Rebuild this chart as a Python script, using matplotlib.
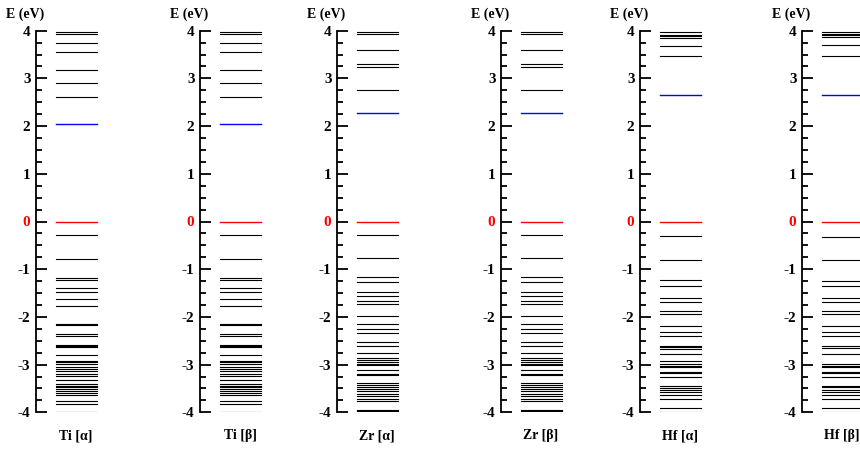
import matplotlib
matplotlib.use('agg')
import matplotlib.pyplot as plt
from matplotlib.ticker import MultipleLocator

# energy levels (eV)
ti_a = [3.97, 3.94, 3.74, 3.56, 3.18, 2.91, 2.60,
        -0.29, -0.78, -1.19, -1.22, -1.39, -1.47, -1.62, -1.77,
        -2.15, -2.17, -2.35, -2.41, -2.59, -2.62, -2.64, -2.80,
        -2.92, -2.94, -2.99, -3.04, -3.09, -3.14, -3.19, -3.24, -3.33,
        -3.40, -3.44, -3.48, -3.52, -3.56, -3.60, -3.64, -3.77, -3.82, -3.99]
ti_b = [3.97, 3.94, 3.74, 3.56, 3.18, 2.91, 2.60,
        -0.29, -0.78, -1.19, -1.22, -1.39, -1.47, -1.62, -1.77,
        -2.15, -2.17, -2.35, -2.41, -2.59, -2.62, -2.64, -2.80,
        -2.92, -2.94, -2.99, -3.04, -3.09, -3.14, -3.19, -3.24, -3.33,
        -3.40, -3.44, -3.48, -3.52, -3.56, -3.60, -3.64, -3.77, -3.82, -3.99]
zr_a = [3.97, 3.94, 3.59, 3.30, 3.23, 2.76,
        -0.28, -0.77, -1.17, -1.27, -1.47, -1.57, -1.67, -1.73, -1.99,
        -2.15, -2.25, -2.33, -2.52, -2.60, -2.76, -2.87, -2.91, -2.94,
        -2.98, -3.01, -3.12, -3.20, -3.22, -3.39, -3.43, -3.48, -3.52,
        -3.56, -3.62, -3.66, -3.72, -3.76, -3.95, -3.98]
zr_b = [3.97, 3.94, 3.59, 3.30, 3.23, 2.76,
        -0.28, -0.77, -1.17, -1.27, -1.47, -1.57, -1.67, -1.73, -1.99,
        -2.15, -2.25, -2.33, -2.52, -2.60, -2.76, -2.87, -2.91, -2.94,
        -2.98, -3.01, -3.12, -3.20, -3.22, -3.39, -3.43, -3.48, -3.52,
        -3.56, -3.62, -3.66, -3.72, -3.76, -3.95, -3.98]
hf_a = [3.98, 3.92, 3.88, 3.85, 3.68, 3.46,
        -0.31, -0.80, -1.23, -1.36, -1.61, -1.69, -1.87, -1.94, -2.20,
        -2.31, -2.39, -2.61, -2.64, -2.67, -2.77, -2.92, -2.98, -3.02,
        -3.06, -3.15, -3.18, -3.26, -3.44, -3.49, -3.53, -3.58, -3.63,
        -3.73, -3.90, -3.99]
hf_b = [3.98, 3.94, 3.91, 3.87, 3.69, 3.46,
        -0.32, -0.80, -1.24, -1.36, -1.61, -1.69, -1.88, -1.94, -2.20,
        -2.32, -2.40, -2.62, -2.66, -2.78, -2.98, -3.02, -3.06, -3.15,
        -3.18, -3.26, -3.44, -3.48, -3.53, -3.58, -3.63, -3.73, -3.90, -3.99]

lumo = [2.05, 2.05, 2.27, 2.27, 2.66, 2.66]
homo = [0.0, 0.0, 0.0, 0.0, 0.0, 0.0]
names = ['Ti [α]', 'Ti [β]', 'Zr [α]', 'Zr [β]', 'Hf [α]', 'Hf [β]']
levels = [ti_a, ti_b, zr_a, zr_b, hf_a, hf_b]

yticks = [4, 3, 2, 1, 0, -1, -2, -3, -4]
ytick_labels = ['4', '3', '2', '1', '0', '-1', '-2', '-3', '-4']

W, H = 860, 451
fig = plt.figure(figsize=(W / 100, H / 100), dpi=100)
plt.rcParams['font.family'] = ['Liberation Serif', 'DejaVu Serif']

# left spine position of each panel, pixels
spine_x = [36, 200, 337, 501, 640, 802]
top, bot = 30.7, 412.3
aw = 70.0

for i in range(len(names)):
    x0 = spine_x[i]
    ax = fig.add_axes([x0 / W, (H - bot) / H, aw / W, (bot - top) / H])
    ax.set_xlim(0, 1)
    ax.set_ylim(-4, 4)
    for s in ['top', 'right', 'bottom']:
        ax.spines[s].set_visible(False)
    ax.spines['left'].set_linewidth(1.3)
    ax.set_xticks([])
    ax.set_yticks(yticks)
    ax.set_yticklabels(ytick_labels, fontsize=11, fontweight='bold')
    ax.yaxis.set_minor_locator(MultipleLocator(0.25))
    ax.tick_params(axis='y', which='major', direction='in', length=8, width=1.3, pad=4)
    ax.tick_params(axis='y', which='minor', direction='in', length=4, width=1.3)
    for lab in ax.get_yticklabels():
        if lab.get_text() == '0':
            lab.set_color('red')

    xa, xb = 20 / aw, 61 / aw
    for e in levels[i]:
        ax.axhline(e, xmin=xa, xmax=xb, color='black', lw=0.8)
    ax.axhline(homo[i], xmin=xa, xmax=xb, color='red', lw=1.0)
    ax.axhline(lumo[i], xmin=xa, xmax=xb, color='blue', lw=1.0)

    fig.text((x0 - 11) / W, 1 - 14 / H, 'E (eV)', ha='center', va='center',
             fontsize=10, fontweight='bold')
    fig.text((x0 + 40) / W, 1 - 436 / H, names[i], ha='center', va='center',
             fontsize=10, fontweight='bold')

fig.savefig('out.png', dpi=100)
